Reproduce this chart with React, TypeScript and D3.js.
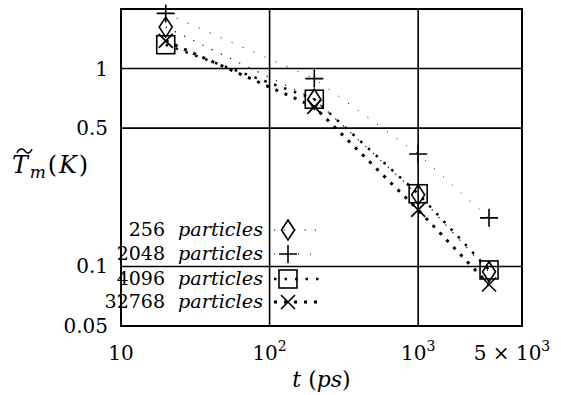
import * as d3 from 'd3';
import React from 'react';

// time points (ps) and the four series
const times = [20, 200, 1000, 3000];
const t256 = [1.62, 0.7, 0.23, 0.094];
const t2048 = [1.9, 0.89, 0.37, 0.176];
const t4096 = [1.32, 0.7, 0.233, 0.096];
const t32768 = [1.38, 0.64, 0.193, 0.081];

const seriesNames = ['256', '2048', '4096', '32768'];
const yTicks = [1, 0.5, 0.1, 0.05];
const yTickLabels = ['1', '0.5', '0.1', '0.05'];
const xTicks = [10, 100, 1000, 5000];

const W = 561;
const H = 395;
const FONT = "'DejaVu Serif', serif";

export default function App() {
  const svgRef = React.useRef<SVGSVGElement>(null);

  React.useEffect(() => {
    if (svgRef.current == null) {
      return;
    }
    const svg = d3.select(svgRef.current);
    svg.selectAll('*').remove();

    const x = d3.scaleLog().domain([10, 5000]).range([121, 522]);
    const y = d3.scaleLog().domain([0.05, 2]).range([326, 9]);

    const series = [
      { name: seriesNames[0], values: t256, marker: 'diamond', dash: '1.2 9', width: 1.2 },
      { name: seriesNames[1], values: t2048, marker: 'plus', dash: '1 11', width: 1 },
      { name: seriesNames[2], values: t4096, marker: 'square', dash: '2.5 8', width: 2.5 },
      { name: seriesNames[3], values: t32768, marker: 'cross', dash: '3 7', width: 3 },
    ];

    // grid lines
    [1, 0.5, 0.1].forEach((v) => {
      svg
        .append('line')
        .attr('x1', x(10))
        .attr('x2', x(5000))
        .attr('y1', y(v))
        .attr('y2', y(v))
        .attr('stroke', '#000')
        .attr('stroke-width', 1.6);
    });
    [100, 1000].forEach((t) => {
      svg
        .append('line')
        .attr('x1', x(t))
        .attr('x2', x(t))
        .attr('y1', y(2))
        .attr('y2', y(0.05))
        .attr('stroke', '#000')
        .attr('stroke-width', 1.6);
    });

    // frame
    svg
      .append('rect')
      .attr('x', x(10))
      .attr('y', y(2))
      .attr('width', x(5000) - x(10))
      .attr('height', y(0.05) - y(2))
      .attr('fill', 'none')
      .attr('stroke', '#000')
      .attr('stroke-width', 2);

    function drawMarker(g: any, kind: string, cx: number, cy: number) {
      const m = g.append('g').attr('fill', 'none').attr('stroke', '#000').attr('stroke-width', 1.6);
      if (kind === 'diamond') {
        m.append('path').attr(
          'd',
          `M${cx},${cy - 10}L${cx + 6.5},${cy}L${cx},${cy + 10}L${cx - 6.5},${cy}Z`
        );
      } else if (kind === 'plus') {
        m.append('path').attr('d', `M${cx - 9},${cy}H${cx + 9}M${cx},${cy - 9}V${cy + 9}`);
      } else if (kind === 'square') {
        m.append('rect')
          .attr('x', cx - 9)
          .attr('y', cy - 9)
          .attr('width', 18)
          .attr('height', 18);
      } else {
        m.append('path').attr(
          'd',
          `M${cx - 7},${cy - 7}L${cx + 7},${cy + 7}M${cx - 7},${cy + 7}L${cx + 7},${cy - 7}`
        );
      }
    }

    const line = d3
      .line<number>()
      .x((_, i) => x(times[i]))
      .y((d) => y(d));

    series.forEach((s) => {
      svg
        .append('path')
        .attr('d', line(s.values))
        .attr('fill', 'none')
        .attr('stroke', '#000')
        .attr('stroke-width', s.width)
        .attr('stroke-dasharray', s.dash);
      s.values.forEach((v, i) => drawMarker(svg, s.marker, x(times[i]), y(v)));
    });

    const text = (px: number, py: number, size: number) =>
      svg
        .append('text')
        .attr('x', px)
        .attr('y', py)
        .style('font-family', FONT)
        .style('font-size', `${size}px`);

    // legend
    const rowY = [236, 260, 285, 308];
    series.forEach((s, i) => {
      text(165, rowY[i], 19).attr('text-anchor', 'end').text(s.name);
      text(178, rowY[i], 19)
        .attr('textLength', 85)
        .attr('lengthAdjust', 'spacingAndGlyphs')
        .style('font-style', 'italic')
        .text('particles');
      const cy = rowY[i] - 6;
      svg
        .append('line')
        .attr('x1', 274)
        .attr('x2', 320)
        .attr('y1', cy)
        .attr('y2', cy)
        .attr('stroke', '#000')
        .attr('stroke-width', s.width)
        .attr('stroke-dasharray', s.dash);
      drawMarker(svg, s.marker, 288, cy);
    });

    // y tick labels
    yTicks.forEach((v, i) => {
      text(x(10) - 13, y(v) + 7, 20).attr('text-anchor', 'end').text(yTickLabels[i]);
    });

    // x tick labels
    xTicks.forEach((t, i) => {
      const txt = text(x(t), 360, 20).attr('text-anchor', 'middle');
      if (i === 0) {
        txt.text('10');
      } else if (i === 3) {
        txt.attr('dx', -10);
        txt.append('tspan').text('5 × 10');
        txt.append('tspan').attr('dy', -9).style('font-size', '14px').text('3');
      } else {
        txt.append('tspan').text('10');
        txt.append('tspan').attr('dy', -9).style('font-size', '14px').text(String(i + 1));
      }
    });

    // x axis title
    const xt = text((x(10) + x(5000)) / 2, 387, 22).attr('text-anchor', 'middle');
    xt.append('tspan').style('font-style', 'italic').text('t');
    xt.append('tspan').text(' (');
    xt.append('tspan').style('font-style', 'italic').text('ps');
    xt.append('tspan').text(')');

    // y axis title
    const yt = text(12, 173, 24).attr('textLength', 76).attr('lengthAdjust', 'spacing');
    yt.append('tspan').style('font-style', 'italic').text('T');
    yt.append('tspan').attr('dy', 5).style('font-style', 'italic').style('font-size', '17px').text('m');
    yt.append('tspan').attr('dy', -5).text('(');
    yt.append('tspan').style('font-style', 'italic').text('K');
    yt.append('tspan').text(')');
    // tilde accent over T
    svg
      .append('path')
      .attr('d', 'M17,153 C19,148 23,148 25,151 C27,154 30,154 32,149')
      .attr('fill', 'none')
      .attr('stroke', '#000')
      .attr('stroke-width', 1.4);
  }, []);

  return (
    <svg
      ref={svgRef}
      width={W}
      height={H}
      style={{ position: 'absolute', left: 0, top: 0, background: '#fff' }}
    ></svg>
  );
}
